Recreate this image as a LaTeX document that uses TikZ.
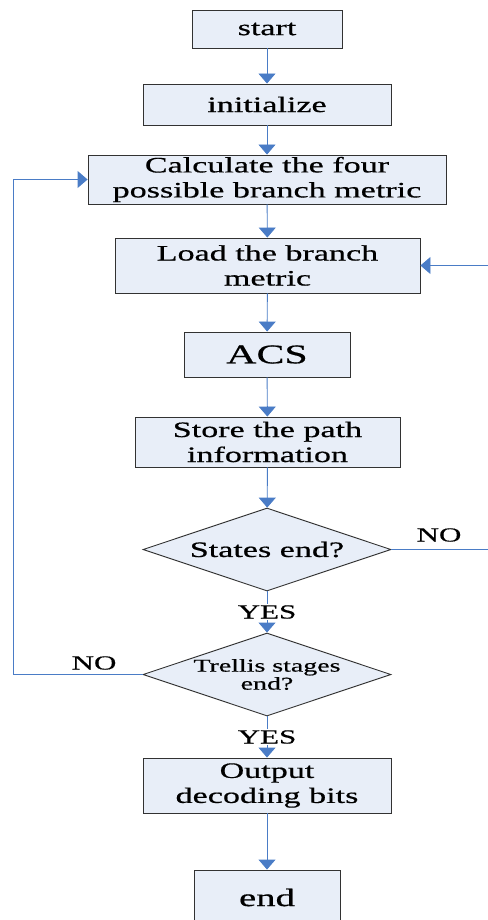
\documentclass[tikz,border=0pt]{standalone}
\usepackage{fontspec}
\setmainfont{Liberation Serif}[FakeStretch=1.55,FakeBold=0.6]
\usetikzlibrary{arrows.meta}
\usetikzlibrary{shapes.geometric}
\definecolor{boxfill}{RGB}{232,238,248}
\definecolor{boxline}{RGB}{50,50,50}
\definecolor{flowblue}{RGB}{74,124,198}

\tikzset{
    stepbox/.style={draw=boxline, fill=boxfill, line width=0.9pt, inner sep=0pt, align=center, font=\fontsize{22}{25}\selectfont},
    decision/.style={diamond, draw=boxline, fill=boxfill, line width=0.9pt, inner sep=0pt, minimum width=248, minimum height=83},
    flow/.style={draw=flowblue, line width=0.9pt, -{Triangle[width=17pt,length=10pt]}},
    answer/.style={font=\fontsize{20}{22}\selectfont, inner sep=1pt}
}

\begin{document}
\begin{tikzpicture}[x=1pt, y=-1pt] % y nach unten
    \useasboundingbox (0,0) rectangle (487,920);
    % Kästen
    \node[stepbox, minimum width=150, minimum height=38] (start) at (267,29) {start};
    \node[stepbox, minimum width=248, minimum height=41] (init) at (267,104.5) {initialize};
    \node[stepbox, minimum width=358, minimum height=49] (calc) at (267,179.5) {Calculate the four\\possible branch metric};
    \node[stepbox, minimum width=305, minimum height=55] (load) at (267.5,265.5) {Load the branch\\metric};
    \node[stepbox, minimum width=166, minimum height=45, font=\fontsize{27}{30}\selectfont] (acs) at (267,354.5) {ACS};
    \node[stepbox, minimum width=265, minimum height=50] (store) at (267.5,442) {Store the path\\information};
    % Verzweigungen
    \node[decision, label={[font=\fontsize{22}{25}\selectfont]center:States end?}] (states) at (267,549.5) {};
    \node[decision, label={[font=\fontsize{18}{18}\selectfont, align=center]center:{Trellis stages\\end?}}] (trellis) at (267,674.5) {};
    \node[stepbox, minimum width=248, minimum height=55] (output) at (267,785.5) {Output\\decoding bits};
    \node[stepbox, minimum width=146, minimum height=55, font=\fontsize{25}{28}\selectfont] (end) at (267,897.5) {end};
    % Pfeile nach unten
    \foreach \a/\b in {start/init, init/calc, calc/load, load/acs, acs/store, store/states, output/end} {
        \draw[flow] (\a) -- (\b);
    }
    \draw[flow] (states) -- node[answer, fill=white] (yes1) {YES} (trellis);
    \draw[flow] (trellis) -- node[answer, fill=white] (yes2) {YES} (output);
    % Rückführungen
    \draw[flow] (states.east) -- ++(110,0) |- (load.east);
    \node[answer] (no1) at (439,535) {NO};
    \draw[flow] (trellis.west) -- ++(-129,0) |- (calc.west);
    \node[answer] (no2) at (94,663) {NO};
\end{tikzpicture}
\end{document}
